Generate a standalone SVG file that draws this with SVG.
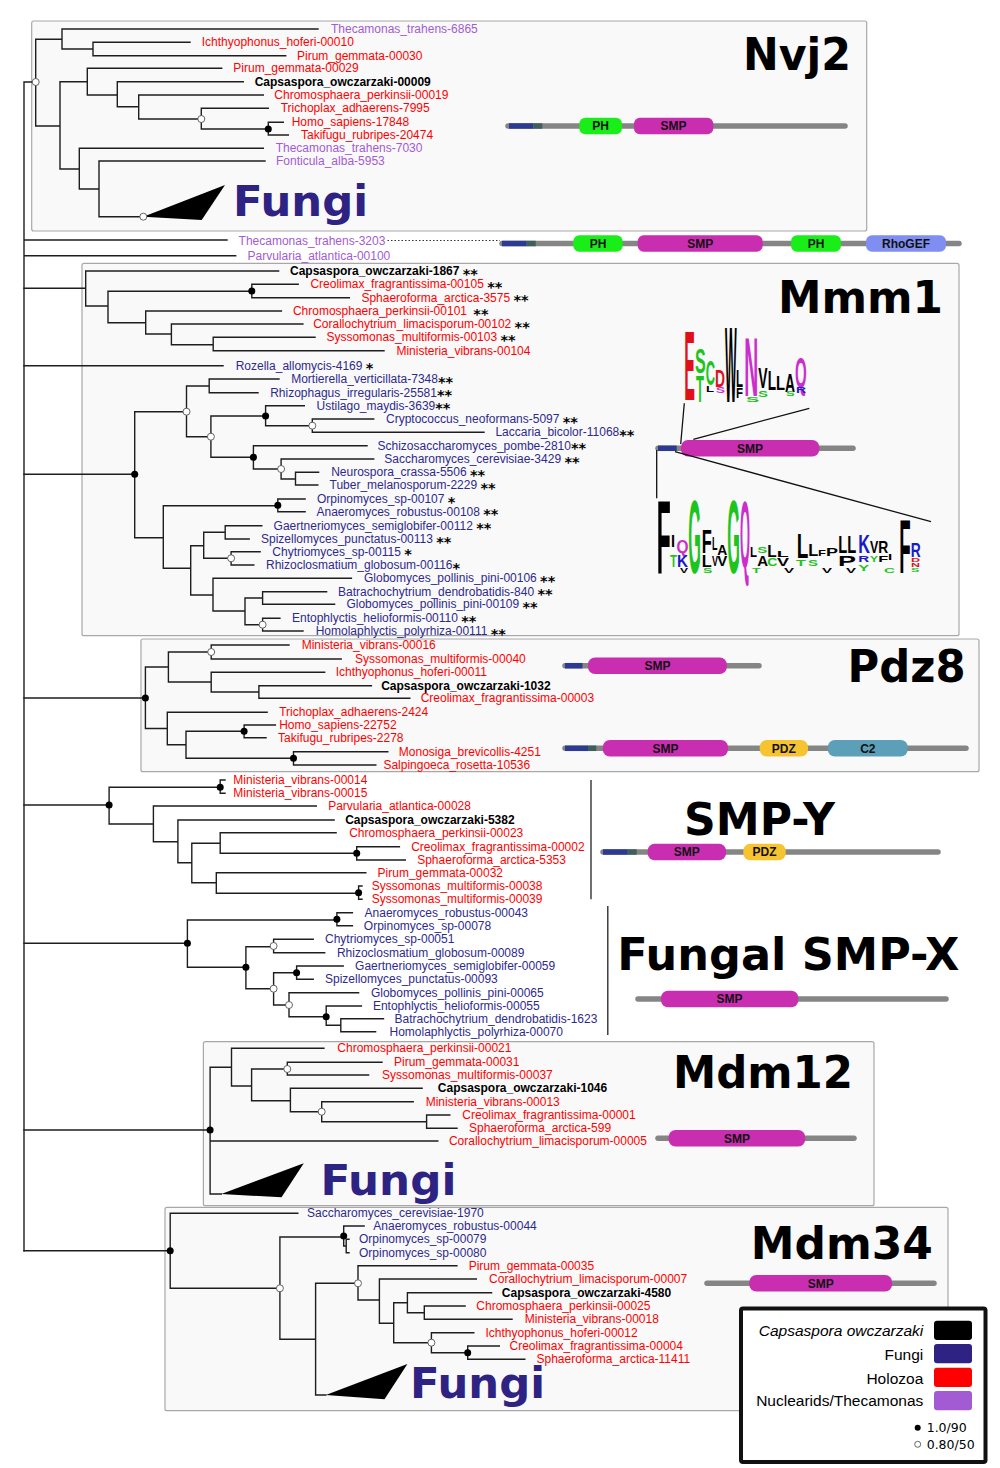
<svg xmlns="http://www.w3.org/2000/svg" width="1000" height="1468" viewBox="0 0 1000 1468">
<style>
.bg{fill:#fff}
.box{fill:#f9f9f9;stroke:#a8a8a8;stroke-width:1.2}
.br{stroke:#1e1e1e;stroke-width:1.4;fill:none;stroke-linecap:square}
.nf{fill:#000}
.no{fill:#fff;stroke:#555;stroke-width:0.9}
.t{font-family:"Liberation Sans",Arial,sans-serif;font-size:12px}
.h{fill:#ff0000}
.f{fill:#2e2a8c}
.n{fill:#a35bd3}
.c{fill:#000;font-weight:bold}
.s{fill:#000;font-weight:bold;font-family:"DejaVu Sans",sans-serif;font-size:14.5px}
.ttl{font-family:"DejaVu Sans",sans-serif;font-weight:bold;font-size:44px;fill:#000}
.fg{font-family:"DejaVu Sans",sans-serif;font-weight:bold;font-size:43px;fill:#2e2383}
.bar{stroke:#858585;stroke-width:5.5;stroke-linecap:round}
.blu{stroke:#2d3a92;stroke-width:5.5}
.tea{stroke:#3f5f5e;stroke-width:5.5}
.ph{fill:#19ee19}
.smp{fill:#c92db0}
.rho{fill:#7f8ef0}
.pdz{fill:#f6c431}
.c2{fill:#5c9fb8}
.dl{font-family:"Liberation Sans",Arial,sans-serif;font-weight:bold;font-size:12px;text-anchor:middle;fill:#111}
.lg{font-family:"Liberation Sans",Arial,sans-serif;font-weight:bold;font-size:10px}
.lr{fill:#e0101a}.lgn{fill:#1ec41e}.lk{fill:#000}.lm{fill:#cc2ecc}.lb{fill:#1a1ac8}
.leg{font-family:"Liberation Sans",Arial,sans-serif;font-size:15.5px;text-anchor:end;fill:#000}
.sup{font-family:"DejaVu Sans",sans-serif;font-size:12.5px;fill:#000}
.cn{stroke:#111;stroke-width:1.3;fill:none}
</style>
<rect class="bg" x="0" y="0" width="1000" height="1468"/>

<!-- panels (boxes) -->
<g id="panel-boxes">
<rect class="box" x="31.7" y="21" width="835" height="210" rx="2"/>
<rect class="box" x="82" y="263.3" width="877" height="372.4" rx="2"/>
<rect class="box" x="141" y="639" width="838" height="132.7" rx="2"/>
<rect class="box" x="203.4" y="1041.7" width="670.6" height="164" rx="2"/>
<rect class="box" x="165" y="1207.3" width="783" height="203.4" rx="2"/>
<line x1="591" y1="780" x2="591" y2="899.3" stroke="#222" stroke-width="1.3"/>
<line x1="607.8" y1="906" x2="607.8" y2="1035" stroke="#222" stroke-width="1.3"/>
</g>

<!-- connectors -->
<g id="connectors">
<path class="br" d="M24 82 V1250.7
M24 82 H35.7 M35.7 39.3 V126 M35.7 39.3 H62 M62 29 V49 M62 29 H318 M62 49 H93 M93 42.3 V55.7 M93 42.3 H190 M93 55.7 H285.7
M35.7 126 H60 M60 81.7 V169 M60 81.7 H87.3 M87.3 68.3 V95 M87.3 68.3 H221.7 M87.3 95 H117.3 M117.3 81.7 V106.7 M117.3 81.7 H243.3
M117.3 106.7 H138.7 M138.7 95 V119 M138.7 95 H263.3 M138.7 119 H201.3 M201.3 108.3 V129 M201.3 108.3 H268.3 M201.3 129 H268.3
M268.3 122.3 V135 M268.3 122.3 H283.3 M268.3 135 H288.3
M60 169 H79.3 M79.3 148.3 V189 M79.3 148.3 H263.3 M79.3 189 H99 M99 161 V216.7 M99 161 H265 M99 216.7 H143.3
M24 240 H227 M24 255.7 H235.7"/>
<path d="M387.5 240.5 H500" stroke="#333" stroke-width="1.2" stroke-dasharray="1.5,2" fill="none"/>
<path class="br" d="M24 288.3 H85.7 M85.7 271 V306 M85.7 271 H278.6 M85.7 306 H108 M108 291.3 V322.7 M108 291.3 H251.8
M251.8 284.3 V297.7 M251.8 284.3 H298.2 M251.8 297.7 H349.3 M108 322.7 H145.7 M145.7 311 V334 M145.7 311 H281.4
M145.7 334 H171.4 M171.4 324 V344.7 M171.4 324 H302.9 M171.4 344.7 H213.2 M213.2 337.3 V350.7 M213.2 337.3 H315 M213.2 350.7 H384
M24 365.7 H223
M24 474.3 H134.7 M134.7 411.7 V537.7 M134.7 411.7 H186.5 M186.5 386 V436.7 M186.5 386 H209.2 M209.2 379 V392.7 M209.2 379 H279 M209.2 392.7 H258
M186.5 436.7 H210.9 M210.9 416 V457.3 M210.9 416 H265.6 M265.6 405.7 V425.7 M265.6 405.7 H304.3 M265.6 425.7 H312.3
M312.3 419 V432.3 M312.3 419 H373.7 M312.3 432.3 H484 M210.9 457.3 H253.4 M253.4 445.7 V469 M253.4 445.7 H367 M253.4 469 H281.1
M281.1 459 V479 M281.1 459 H373.7 M281.1 479 H295.5 M295.5 472.3 V485 M295.5 472.3 H318.6 M295.5 485 H317.8
M134.7 537.7 H163.3 M163.3 505.7 V568.3 M163.3 505.7 H277.8 M277.8 499 V511.7 M277.8 499 H305.1 M277.8 511.7 H305.1
M163.3 568.3 H190.7 M190.7 545.7 V595 M190.7 545.7 H203.7 M203.7 532.3 V558.3 M203.7 532.3 H225.2 M225.2 525.7 V539 M225.2 525.7 H261.8 M225.2 539 H249.2
M203.7 558.3 H231.1 M231.1 551.7 V565 M231.1 551.7 H260.1 M231.1 565 H253.8
M190.7 595 H213 M213 578.3 V611 M213 578.3 H351.4 M213 611 H245 M245 598 V624.7 M245 598 H262.6 M245 624.7 H262.6
M262.6 591.7 V604.3 M262.6 591.7 H326.6 M262.6 604.3 H334.6 M262.6 618.3 V631 M262.6 618.3 H279.9 M262.6 631 H303"/>
<path class="br" d="M24 698 H145.4 M145.4 667 V728.5 M145.4 667 H168.4 M168.4 652 V682 M168.4 652 H211.2 M211.2 645 V659 M211.2 645 H289 M211.2 659 H341.2
M168.4 682 H211.2 M211.2 672.3 V692 M211.2 672.3 H324.7 M211.2 692 H258.9 M258.9 685.7 V698.3 M258.9 685.7 H371.4 M258.9 698.3 H409.8
M145.4 728.5 H167.3 M167.3 712.3 V744.8 M167.3 712.3 H267.1 M167.3 744.8 H186 M186 731.3 V758.3 M186 731.3 H244.1
M244.1 725 V737.7 M244.1 725 H275.4 M244.1 737.7 H266 M186 758.3 H293.5 M293.5 751.7 V765 M293.5 751.7 H387.8 M293.5 765 H375.8"/>
<path class="br" d="M24 805 H109.1 M109.1 787.3 V824 M109.1 787.3 H220.2 M220.2 780 V793.3 M220.2 780 H225 M220.2 793.3 H225
M109.1 824 H153.4 M153.4 806 V841.7 M153.4 806 H316.3 M153.4 841.7 H177.9 M177.9 820 V862.7 M177.9 820 H334.1
M177.9 862.7 H191.8 M191.8 843.3 V882.7 M191.8 843.3 H220.2 M220.2 832.7 V853.3 M220.2 832.7 H336.1 M220.2 853.3 H356.7
M356.7 846.7 V860 M356.7 846.7 H399.4 M356.7 860 H405.3 M191.8 882.7 H216.3 M216.3 872.7 V893.3 M216.3 872.7 H365.8
M216.3 893.3 H358.6 M358.6 886 V899.3 M358.6 886 H362 M358.6 899.3 H362"/>
<path class="br" d="M24 943.3 H187.4 M187.4 920 V967.3 M187.4 920 H336.9 M336.9 912.7 V925.7 M336.9 912.7 H352.4 M336.9 925.7 H352.4
M187.4 967.3 H245.9 M245.9 946.7 V988.7 M245.9 946.7 H273.6 M273.6 939.3 V952.7 M273.6 939.3 H313.2 M273.6 952.7 H324.7
M245.9 988.7 H273.6 M273.6 972.7 V1005 M273.6 972.7 H296.6 M296.6 966 V979.3 M296.6 966 H343.2 M296.6 979.3 H313.2
M273.6 1005 H289 M289 992.7 V1016.7 M289 992.7 H358.6 M289 1016.7 H326.2 M326.2 1006 V1025.2 M326.2 1006 H361.4 M326.2 1025.2 H340.8
M340.8 1018.7 V1031.7 M340.8 1018.7 H383.5 M340.8 1031.7 H375.6"/>
<path class="br" d="M24 1130 H210.1 M210.1 1067.3 V1194 M210.1 1067.3 H231.5 M231.5 1048.3 V1086 M231.5 1048.3 H323.9 M231.5 1086 H251.6
M251.6 1069 V1100.7 M251.6 1069 H287.3 M287.3 1062.3 V1075 M287.3 1062.3 H382 M287.3 1075 H368.6 M251.6 1100.7 H290.4
M290.4 1088.3 V1111.7 M290.4 1088.3 H422.1 M290.4 1111.7 H321.7 M321.7 1101.7 V1121.7 M321.7 1101.7 H413.2 M321.7 1121.7 H426.6
M426.6 1115 V1128.3 M426.6 1115 H449.8 M426.6 1128.3 H457 M210.1 1141 H437.8 M210.1 1194 H221.3"/>
<path class="br" d="M24 1250.7 H170.2 M170.2 1213.3 V1288.3 M170.2 1213.3 H297.8 M170.2 1288.3 H279.9 M279.9 1237 V1339.3 M279.9 1237 H343.7
M343.7 1226 V1246 M343.7 1226 H364.1 M343.7 1246 H346.2 M346.2 1239.3 V1252.7 M346.2 1239.3 H349 M346.2 1252.7 H349
M279.9 1339.3 H315.6 M315.6 1283.3 V1395 M315.6 1283.3 H358 M358 1265.7 V1300 M358 1265.7 H456.9 M358 1300 H379.4
M379.4 1279 V1323.3 M379.4 1279 H476.3 M379.4 1323.3 H393.7 M393.7 1302.7 V1342.7 M393.7 1302.7 H407.4
M407.4 1292.7 V1312.7 M407.4 1292.7 H491.6 M407.4 1312.7 H424.3 M424.3 1306 V1319.3 M424.3 1306 H465.1 M424.3 1319.3 H512
M393.7 1342.7 H431.4 M431.4 1332.7 V1352.7 M431.4 1332.7 H473.8 M431.4 1352.7 H467.7 M467.7 1346 V1359.3 M467.7 1346 H499.3 M467.7 1359.3 H524.8
M315.6 1395 H325.8"/>
<!-- collapsed Fungi triangles -->
<polygon points="143.3,216.7 225,185 201.7,220" fill="#000"/>
<polygon points="221.3,1194 303.8,1163.3 281.5,1197.3" fill="#000"/>
<polygon points="325.8,1395 407.4,1364 384.5,1399.3" fill="#000"/>
<!-- support dots -->
<g id="support">
<circle class="no" cx="35.7" cy="82" r="3.5"/>
<circle class="no" cx="201.3" cy="119" r="3.5"/>
<circle class="nf" cx="268.3" cy="129" r="3.5"/>
<circle class="no" cx="143.3" cy="216.7" r="3.5"/>
<circle class="nf" cx="251.8" cy="291" r="3.5"/>
<circle class="nf" cx="134.7" cy="474.3" r="3.5"/>
<circle class="no" cx="186.5" cy="411.7" r="3.5"/>
<circle class="no" cx="210.9" cy="436.7" r="3.5"/>
<circle class="nf" cx="265.6" cy="416" r="3.5"/>
<circle class="no" cx="312.3" cy="425.7" r="3.5"/>
<circle class="nf" cx="253.4" cy="457.3" r="3.5"/>
<circle class="no" cx="281.1" cy="469" r="3.5"/>
<circle class="nf" cx="277.8" cy="505.3" r="3.5"/>
<circle class="no" cx="231.1" cy="558.3" r="3.5"/>
<circle class="no" cx="262.6" cy="624.7" r="3.5"/>
<circle class="nf" cx="145.4" cy="698" r="3.5"/>
<circle class="no" cx="211.2" cy="652" r="3.5"/>
<circle class="nf" cx="244.1" cy="731.3" r="3.5"/>
<circle class="nf" cx="293.5" cy="758.3" r="3.5"/>
<circle class="nf" cx="109.1" cy="805" r="3.5"/>
<circle class="nf" cx="220.2" cy="787.3" r="3.5"/>
<circle class="nf" cx="356.7" cy="853.3" r="3.5"/>
<circle class="nf" cx="358.6" cy="892.7" r="3.5"/>
<circle class="nf" cx="187.4" cy="943.3" r="3.5"/>
<circle class="nf" cx="336.9" cy="919.2" r="3.5"/>
<circle class="nf" cx="245.9" cy="967.3" r="3.5"/>
<circle class="no" cx="273.6" cy="946" r="3.5"/>
<circle class="no" cx="273.6" cy="988.7" r="3.5"/>
<circle class="nf" cx="296.6" cy="972.7" r="3.5"/>
<circle class="no" cx="289" cy="1005" r="3.5"/>
<circle class="nf" cx="326.2" cy="1016.7" r="3.5"/>
<circle class="nf" cx="210.1" cy="1130" r="3.5"/>
<circle class="no" cx="287.3" cy="1069" r="3.5"/>
<circle class="no" cx="321.7" cy="1111.7" r="3.5"/>
<circle class="nf" cx="170.2" cy="1250.7" r="3.5"/>
<circle class="no" cx="279.9" cy="1288.3" r="3.5"/>
<circle class="nf" cx="343.7" cy="1236" r="3.5"/>
<circle class="no" cx="358" cy="1283.3" r="3.5"/>
<circle class="no" cx="431.4" cy="1342.7" r="3.5"/>
<circle class="nf" cx="467.7" cy="1352.7" r="3.5"/>
</g>
</g>

<!-- Nvj2 -->
<g id="nvj2">
<text class="ttl" x="743" y="70" textLength="108" lengthAdjust="spacingAndGlyphs">Nvj2</text>
<text class="fg" x="233" y="216" textLength="135" lengthAdjust="spacingAndGlyphs">Fungi</text>
<g class="t">
<text class="n" x="331" y="33">Thecamonas_trahens-6865</text>
<text class="h" x="201.7" y="46.3">Ichthyophonus_hoferi-00010</text>
<text class="h" x="297" y="59.7">Pirum_gemmata-00030</text>
<text class="h" x="233.3" y="72.3">Pirum_gemmata-00029</text>
<text class="c" x="254.7" y="85.7">Capsaspora_owczarzaki-00009</text>
<text class="h" x="274.3" y="99">Chromosphaera_perkinsii-00019</text>
<text class="h" x="280.7" y="112.3">Trichoplax_adhaerens-7995</text>
<text class="h" x="291.7" y="126.3">Homo_sapiens-17848</text>
<text class="h" x="301" y="139">Takifugu_rubripes-20474</text>
<text class="n" x="275.7" y="152.3">Thecamonas_trahens-7030</text>
<text class="n" x="276" y="165">Fonticula_alba-5953</text>
</g>
<g id="nvj2-domains">
<line class="bar" x1="508" y1="126" x2="845" y2="126"/>
<line class="blu" x1="509" y1="126" x2="533.3" y2="126" stroke-linecap="butt"/>
<line class="tea" x1="533.3" y1="126" x2="542.3" y2="126"/>
<rect class="ph" x="579.3" y="117.7" width="42.7" height="16.6" rx="6"/>
<rect class="smp" x="634" y="117.7" width="79.3" height="16.6" rx="6"/>
<text class="dl" x="600.6" y="130.3">PH</text>
<text class="dl" x="673.6" y="130.3">SMP</text>
</g>
</g>

<!-- Thecamonas 3203 / Parvularia 00100 -->
<g id="thecamonas-3203">
<text class="t n" x="238.6" y="244.5">Thecamonas_trahens-3203</text>
<line class="bar" x1="502" y1="243.5" x2="959" y2="243.5"/>
<line class="blu" x1="502" y1="243.5" x2="526.7" y2="243.5"/>
<line class="tea" x1="526.7" y1="243.5" x2="535.7" y2="243.5"/>
<rect class="ph" x="573.3" y="235.2" width="49.4" height="16.6" rx="6"/>
<rect class="smp" x="637.7" y="235.2" width="125" height="16.6" rx="6"/>
<rect class="ph" x="791" y="235.2" width="50" height="16.6" rx="6"/>
<rect class="rho" x="866" y="235.2" width="80" height="16.6" rx="6"/>
<text class="dl" x="598" y="247.8">PH</text>
<text class="dl" x="700.2" y="247.8">SMP</text>
<text class="dl" x="816" y="247.8">PH</text>
<text class="dl" x="906" y="247.8">RhoGEF</text>
</g>
<g id="parvularia-00100">
<text class="t n" x="247.5" y="259.7">Parvularia_atlantica-00100</text>
</g>

<!-- Mmm1 -->
<g id="mmm1">
<text class="ttl" x="778" y="313" textLength="165" lengthAdjust="spacingAndGlyphs">Mmm1</text>
<g class="t">
<text class="c" x="290" y="275">Capsaspora_owczarzaki-1867 <tspan class="s" dy="3.5">**</tspan></text>
<text class="h" x="310.4" y="288.3">Creolimax_fragrantissima-00105 <tspan class="s" dy="3.5">**</tspan></text>
<text class="h" x="361.4" y="301.7">Sphaeroforma_arctica-3575 <tspan class="s" dy="3.5">**</tspan></text>
<text class="h" x="292.9" y="315">Chromosphaera_perkinsii-00101 <tspan class="s" dx="3" dy="3.5">**</tspan></text>
<text class="h" x="313.2" y="328">Corallochytrium_limacisporum-00102 <tspan class="s" dy="3.5">**</tspan></text>
<text class="h" x="326.4" y="341.3">Syssomonas_multiformis-00103 <tspan class="s" dy="3.5">**</tspan></text>
<text class="h" x="396.4" y="354.7">Ministeria_vibrans-00104</text>
<text class="f" x="235.7" y="369.7">Rozella_allomycis-4169 <tspan class="s" dy="3.5">*</tspan></text>
<text class="f" x="291.2" y="383">Mortierella_verticillata-7348<tspan class="s" dy="3.5">**</tspan></text>
<text class="f" x="270.2" y="396.7">Rhizophagus_irregularis-25581<tspan class="s" dy="3.5">**</tspan></text>
<text class="f" x="316.5" y="409.7">Ustilago_maydis-3639<tspan class="s" dy="3.5">**</tspan></text>
<text class="f" x="386" y="423">Cryptococcus_neoformans-5097 <tspan class="s" dy="3.5">**</tspan></text>
<text class="f" x="495.4" y="436.3">Laccaria_bicolor-11068<tspan class="s" dy="3.5">**</tspan></text>
<text class="f" x="377.5" y="449.7">Schizosaccharomyces_pombe-2810<tspan class="s" dy="3.5">**</tspan></text>
<text class="f" x="384.3" y="463">Saccharomyces_cerevisiae-3429 <tspan class="s" dy="3.5">**</tspan></text>
<text class="f" x="331.2" y="476.3">Neurospora_crassa-5506 <tspan class="s" dy="3.5">**</tspan></text>
<text class="f" x="329.5" y="489">Tuber_melanosporum-2229 <tspan class="s" dy="3.5">**</tspan></text>
<text class="f" x="317" y="503">Orpinomyces_sp-00107 <tspan class="s" dy="3.5">*</tspan></text>
<text class="f" x="316.5" y="515.7">Anaeromyces_robustus-00108 <tspan class="s" dy="3.5">**</tspan></text>
<text class="f" x="273.6" y="529.7">Gaertneriomyces_semiglobifer-00112 <tspan class="s" dy="3.5">**</tspan></text>
<text class="f" x="261" y="543">Spizellomyces_punctatus-00113 <tspan class="s" dy="3.5">**</tspan></text>
<text class="f" x="272.3" y="555.7">Chytriomyces_sp-00115 <tspan class="s" dy="3.5">*</tspan></text>
<text class="f" x="266" y="569">Rhizoclosmatium_globosum-00116<tspan class="s" dy="3.5">*</tspan></text>
<text class="f" x="364" y="582.3">Globomyces_pollinis_pini-00106 <tspan class="s" dy="3.5">**</tspan></text>
<text class="f" x="338" y="595.7">Batrachochytrium_dendrobatidis-840 <tspan class="s" dy="3.5">**</tspan></text>
<text class="f" x="346.4" y="608.3">Globomyces_pollinis_pini-00109 <tspan class="s" dy="3.5">**</tspan></text>
<text class="f" x="292" y="622.3">Entophlyctis_helioformis-00110 <tspan class="s" dy="3.5">**</tspan></text>
<text class="f" x="315.7" y="635">Homolaphlyctis_polyrhiza-00111 <tspan class="s" dy="3.5">**</tspan></text>
</g>
<g id="mmm1-domain">
<line class="bar" x1="658" y1="448.3" x2="853" y2="448.3"/>
<line class="blu" x1="658" y1="448.3" x2="676.7" y2="448.3"/>
<rect class="smp" x="681" y="440" width="138.3" height="16.6" rx="7"/>
<text class="dl" x="750" y="452.6">SMP</text>
<path class="cn" d="M684.3 403.3 L680.7 444 M693.3 439.3 L809.3 408.3 M656.7 450 V498.3 M675 451.7 L931 521.7"/>
</g>
<g id="logo-top" class="lg">
<text class="lr" transform="translate(684.3,400) scale(1.604,9.78)">E</text>
<text class="lgn" transform="translate(695,373.3) scale(1.604,3.49)">S</text>
<text class="lgn" transform="translate(696,401.7) scale(1.31,3.77)">T</text>
<text class="lgn" transform="translate(705.7,385) scale(1.288,3.59)">C</text>
<text class="lk" transform="translate(706,392) scale(1.31,0.98)">L</text>
<text class="lr" transform="translate(715,386.7) scale(1.385,2.33)">D</text>
<text class="lm" transform="translate(716,393) scale(1.35,0.84)">S</text>
<text class="lk" transform="translate(725,401.7) scale(1.239,10.71)">W</text>
<text class="lk" transform="translate(736,386.7) scale(1.146,2.33)">L</text>
<text class="lk" transform="translate(736,398) scale(1.146,1.4)">F</text>
<text class="lm" transform="translate(744.3,396) scale(1.939,8.38)">N</text>
<text class="lgn" transform="translate(746,402) scale(2,0.7)">S</text>
<text class="lk" transform="translate(758.3,388.3) scale(1.394,3.03)">V</text>
<text class="lk" transform="translate(767.7,390) scale(1.358,2.79)">L</text>
<text class="lk" transform="translate(776,390) scale(1.473,2.09)">L</text>
<text class="lk" transform="translate(785,391.7) scale(1.385,2.57)">A</text>
<text class="lm" transform="translate(795,386.7) scale(1.504,4.29)">Q</text>
<text class="lgn" transform="translate(786,396) scale(1.3,0.7)">S</text>
<text class="lb" transform="translate(796,393) scale(1.4,0.84)">R</text>
<text class="lgn" transform="translate(758,397) scale(1.5,0.84)">S</text>
</g>
<g id="logo-bottom" class="lg">
<text class="lk" transform="translate(656.7,573.3) scale(2.29,10.47)">F</text>
<text class="lk" transform="translate(671,546.7) scale(1.44,1.63)">I</text>
<text class="lgn" transform="translate(670,566.7) scale(1.146,1.63)">T</text>
<text class="lm" transform="translate(676.5,553.3) scale(1.54,1.86)">Q</text>
<text class="lb" transform="translate(677,566.7) scale(1.52,1.63)">K</text>
<text class="lgn" transform="translate(688.3,573.3) scale(1.63,10.47)">G</text>
<text class="lk" transform="translate(701.7,553.3) scale(1.64,3.25)">F</text>
<text class="lk" transform="translate(701.7,566.7) scale(1.64,1.68)">L</text>
<text class="lk" transform="translate(712,550) scale(0.9,1.82)">L</text>
<text class="lk" transform="translate(712,566) scale(0.9,1.4)">V</text>
<text class="lk" transform="translate(717.3,555) scale(1.385,1.54)">A</text>
<text class="lk" transform="translate(717.3,566) scale(1.5,1.4)">V</text>
<text class="lgn" transform="translate(727.3,573.3) scale(1.63,10.47)">G</text>
<text class="lm" transform="translate(740,566.7) scale(1.285,9.41)">Q</text>
<text class="lk" transform="translate(750,556.7) scale(1.15,1.4)">L</text>
<text class="lgn" transform="translate(757.3,553.3) scale(1.5,0.94)">S</text>
<text class="lk" transform="translate(757.3,566) scale(1.5,1.4)">A</text>
<text class="lk" transform="translate(767.3,557) scale(1.54,1.68)">L</text>
<text class="lgn" transform="translate(767.3,566) scale(1.4,1.1)">C</text>
<text class="lk" transform="translate(776.7,557) scale(1.96,0.84)">L</text>
<text class="lk" transform="translate(777,566) scale(1.8,1.1)">V</text>
<text class="lk" transform="translate(796.7,558.3) scale(1.9,3.49)">L</text>
<text class="lgn" transform="translate(796,566) scale(1.6,0.84)">T</text>
<text class="lk" transform="translate(808.3,556) scale(1.64,1.68)">L</text>
<text class="lgn" transform="translate(808,566) scale(1.5,0.9)">S</text>
<text class="lk" transform="translate(818,556) scale(1.3,0.84)">F</text>
<text class="lk" transform="translate(826,556) scale(1.8,1.1)">P</text>
<text class="lk" transform="translate(838.3,553.3) scale(1.47,2.32)">L</text>
<text class="lk" transform="translate(847.3,553.3) scale(1.47,2.32)">L</text>
<text class="lk" transform="translate(838,566) scale(2.7,1.4)">P</text>
<text class="lb" transform="translate(858.3,553.3) scale(1.62,2.56)">K</text>
<text class="lb" transform="translate(858.3,562) scale(1.52,0.98)">R</text>
<text class="lgn" transform="translate(858.3,571) scale(1.65,0.98)">Y</text>
<text class="lk" transform="translate(870,553.3) scale(1.24,1.63)">V</text>
<text class="lgn" transform="translate(870,562) scale(1.2,0.98)">Y</text>
<text class="lk" transform="translate(878.3,553.3) scale(1.385,1.63)">R</text>
<text class="lk" transform="translate(878.3,562) scale(1.64,0.98)">F</text>
<text class="lk" transform="translate(888,560) scale(1.5,0.9)">I</text>
<text class="lk" transform="translate(899.3,573.3) scale(1.866,7.54)">F</text>
<text class="lb" transform="translate(910.7,556.7) scale(1.385,2.09)">R</text>
<text class="lr" transform="translate(911,562) scale(1.25,0.6)">D</text>
<text class="lr" transform="translate(911,567) scale(1.25,0.6)">N</text>
<text class="lgn" transform="translate(911,572) scale(1.25,0.6)">S</text>
<text class="lk" transform="translate(680,573) scale(1.2,0.8)">V</text>
<text class="lgn" transform="translate(703,573) scale(1.4,0.8)">S</text>
<text class="lgn" transform="translate(752,573) scale(1.4,0.8)">T</text>
<text class="lk" transform="translate(784,573) scale(1.5,0.8)">V</text>
<text class="lk" transform="translate(822,573) scale(1.5,0.8)">V</text>
<text class="lk" transform="translate(846,573) scale(1.5,0.8)">V</text>
<text class="lgn" transform="translate(884,573) scale(1.5,0.8)">C</text>
</g>
</g>

<!-- Pdz8 -->
<g id="pdz8">
<text class="ttl" x="847.5" y="681.7" textLength="118" lengthAdjust="spacingAndGlyphs">Pdz8</text>
<g class="t">
<text class="h" x="301.7" y="649">Ministeria_vibrans-00016</text>
<text class="h" x="355" y="663">Syssomonas_multiformis-00040</text>
<text class="h" x="335.7" y="676.3">Ichthyophonus_hoferi-00011</text>
<text class="c" x="381.2" y="689.7">Capsaspora_owczarzaki-1032</text>
<text class="h" x="420.7" y="702.3">Creolimax_fragrantissima-00003</text>
<text class="h" x="279.2" y="716.3">Trichoplax_adhaerens-2424</text>
<text class="h" x="279.2" y="729">Homo_sapiens-22752</text>
<text class="h" x="278.1" y="741.7">Takifugu_rubripes-2278</text>
<text class="h" x="398.8" y="755.7">Monosiga_brevicollis-4251</text>
<text class="h" x="383.4" y="769">Salpingoeca_rosetta-10536</text>
</g>
<g id="pdz8-domains">
<line class="bar" x1="565" y1="665.7" x2="759" y2="665.7"/>
<line class="blu" x1="565" y1="665.7" x2="582.5" y2="665.7"/>
<rect class="smp" x="588" y="657.4" width="138.8" height="16.6" rx="7"/>
<text class="dl" x="657.4" y="670">SMP</text>
<line class="bar" x1="565" y1="748.3" x2="966" y2="748.3"/>
<line class="blu" x1="565" y1="748.3" x2="588" y2="748.3"/>
<line class="tea" x1="588" y1="748.3" x2="596.3" y2="748.3"/>
<rect class="smp" x="602.8" y="740" width="125.2" height="16.6" rx="7"/>
<rect class="pdz" x="759.7" y="740" width="48.3" height="16.6" rx="7"/>
<rect class="c2" x="827.8" y="740" width="80" height="16.6" rx="7"/>
<text class="dl" x="665.4" y="752.6">SMP</text>
<text class="dl" x="783.8" y="752.6">PDZ</text>
<text class="dl" x="867.8" y="752.6">C2</text>
</g>
</g>

<!-- SMP-Y -->
<g id="smp-y">
<text class="ttl" x="684" y="835" textLength="151" lengthAdjust="spacingAndGlyphs">SMP-Y</text>
<g class="t">
<text class="h" x="233.3" y="784">Ministeria_vibrans-00014</text>
<text class="h" x="233.3" y="797.3">Ministeria_vibrans-00015</text>
<text class="h" x="328.2" y="810">Parvularia_atlantica-00028</text>
<text class="c" x="345.2" y="824">Capsaspora_owczarzaki-5382</text>
<text class="h" x="349.2" y="836.7">Chromosphaera_perkinsii-00023</text>
<text class="h" x="411.2" y="850.7">Creolimax_fragrantissima-00002</text>
<text class="h" x="417.2" y="864">Sphaeroforma_arctica-5353</text>
<text class="h" x="377.6" y="876.7">Pirum_gemmata-00032</text>
<text class="h" x="371.7" y="890">Syssomonas_multiformis-00038</text>
<text class="h" x="371.7" y="903.3">Syssomonas_multiformis-00039</text>
</g>
<g id="smp-y-domain">
<line class="bar" x1="603" y1="852" x2="938" y2="852"/>
<line class="blu" x1="603" y1="852" x2="627.7" y2="852"/>
<line class="tea" x1="627.7" y1="852" x2="636.7" y2="852"/>
<rect class="smp" x="647.7" y="843.7" width="78.3" height="16.6" rx="7"/>
<rect class="pdz" x="743.3" y="843.7" width="42.4" height="16.6" rx="7"/>
<text class="dl" x="686.8" y="856.3">SMP</text>
<text class="dl" x="764.5" y="856.3">PDZ</text>
</g>
</g>

<!-- Fungal SMP-X -->
<g id="fungal-smp-x">
<text class="ttl" x="617.3" y="970" textLength="342" lengthAdjust="spacingAndGlyphs">Fungal SMP-X</text>
<g class="t">
<text class="f" x="364.6" y="916.7">Anaeromyces_robustus-00043</text>
<text class="f" x="363.8" y="929.7">Orpinomyces_sp-00078</text>
<text class="f" x="325" y="943.3">Chytriomyces_sp-00051</text>
<text class="f" x="336.9" y="956.7">Rhizoclosmatium_globosum-00089</text>
<text class="f" x="355.1" y="970">Gaertneriomyces_semiglobifer-00059</text>
<text class="f" x="325" y="983.3">Spizellomyces_punctatus-00093</text>
<text class="f" x="370.9" y="996.7">Globomyces_pollinis_pini-00065</text>
<text class="f" x="372.9" y="1010">Entophlyctis_helioformis-00055</text>
<text class="f" x="394.6" y="1022.7">Batrachochytrium_dendrobatidis-1623</text>
<text class="f" x="389.5" y="1035.7">Homolaphlyctis_polyrhiza-00070</text>
</g>
<g id="smp-x-domain">
<line class="bar" x1="638" y1="999" x2="946" y2="999"/>
<rect class="smp" x="661" y="990.7" width="137.3" height="16.6" rx="7"/>
<text class="dl" x="729.6" y="1003.3">SMP</text>
</g>
</g>

<!-- Mdm12 -->
<g id="mdm12">
<text class="ttl" x="673" y="1088.3" textLength="180" lengthAdjust="spacingAndGlyphs">Mdm12</text>
<text class="fg" x="320.4" y="1195" textLength="136" lengthAdjust="spacingAndGlyphs">Fungi</text>
<g class="t">
<text class="h" x="337.3" y="1052.3">Chromosphaera_perkinsii-00021</text>
<text class="h" x="394" y="1066.3">Pirum_gemmata-00031</text>
<text class="h" x="382" y="1079">Syssomonas_multiformis-00037</text>
<text class="c" x="437.8" y="1092.3">Capsaspora_owczarzaki-1046</text>
<text class="h" x="425.7" y="1105.7">Ministeria_vibrans-00013</text>
<text class="h" x="462.3" y="1119">Creolimax_fragrantissima-00001</text>
<text class="h" x="469" y="1132.3">Sphaeroforma_arctica-599</text>
<text class="h" x="448.9" y="1145">Corallochytrium_limacisporum-00005</text>
</g>
<g id="mdm12-domain">
<line class="bar" x1="658" y1="1138.3" x2="854" y2="1138.3"/>
<rect class="smp" x="668.6" y="1130" width="136.6" height="16.6" rx="7"/>
<text class="dl" x="736.9" y="1142.6">SMP</text>
</g>
</g>

<!-- Mdm34 -->
<g id="mdm34">
<text class="ttl" x="750.8" y="1259.3" textLength="182" lengthAdjust="spacingAndGlyphs">Mdm34</text>
<text class="fg" x="410" y="1398.3" textLength="135" lengthAdjust="spacingAndGlyphs">Fungi</text>
<g class="t">
<text class="f" x="307" y="1217.3">Saccharomyces_cerevisiae-1970</text>
<text class="f" x="373.3" y="1230">Anaeromyces_robustus-00044</text>
<text class="f" x="359" y="1243.3">Orpinomyces_sp-00079</text>
<text class="f" x="359" y="1256.7">Orpinomyces_sp-00080</text>
<text class="h" x="468.7" y="1269.7">Pirum_gemmata-00035</text>
<text class="h" x="489.1" y="1283">Corallochytrium_limacisporum-00007</text>
<text class="c" x="501.8" y="1296.7">Capsaspora_owczarzaki-4580</text>
<text class="h" x="476.3" y="1310">Chromosphaera_perkinsii-00025</text>
<text class="h" x="524.8" y="1323.3">Ministeria_vibrans-00018</text>
<text class="h" x="485.5" y="1336.7">Ichthyophonus_hoferi-00012</text>
<text class="h" x="509.5" y="1350">Creolimax_fragrantissima-00004</text>
<text class="h" x="536.5" y="1363.3">Sphaeroforma_arctica-11411</text>
</g>
<g id="mdm34-domain">
<line class="bar" x1="707" y1="1283.3" x2="934" y2="1283.3"/>
<rect class="smp" x="749.3" y="1275" width="142.8" height="16.6" rx="7"/>
<text class="dl" x="820.7" y="1287.6">SMP</text>
</g>
</g>

<!-- Legend -->
<g id="legend">
<rect x="741" y="1308.5" width="244.5" height="153.5" rx="2" fill="#fff" stroke="#111" stroke-width="4"/>
<text class="leg" x="923.3" y="1336" font-style="italic">Capsaspora owczarzaki</text>
<text class="leg" x="923.3" y="1359.5">Fungi</text>
<text class="leg" x="923.3" y="1383.5">Holozoa</text>
<text class="leg" x="923.3" y="1406">Nuclearids/Thecamonas</text>
<rect x="934" y="1320.7" width="38" height="19.3" rx="3" fill="#000"/>
<rect x="934" y="1344" width="38" height="19.3" rx="3" fill="#2e2383"/>
<rect x="934" y="1367.7" width="38" height="19.3" rx="3" fill="#ff0000"/>
<rect x="934" y="1391" width="38" height="19.3" rx="3" fill="#a35bd3"/>
<circle cx="917.7" cy="1427.7" r="3" fill="#000"/>
<text class="sup" x="926.7" y="1432">1.0/90</text>
<circle cx="917.7" cy="1444.3" r="3" fill="#fff" stroke="#555" stroke-width="0.9"/>
<text class="sup" x="926.7" y="1448.7">0.80/50</text>
</g>
</svg>
